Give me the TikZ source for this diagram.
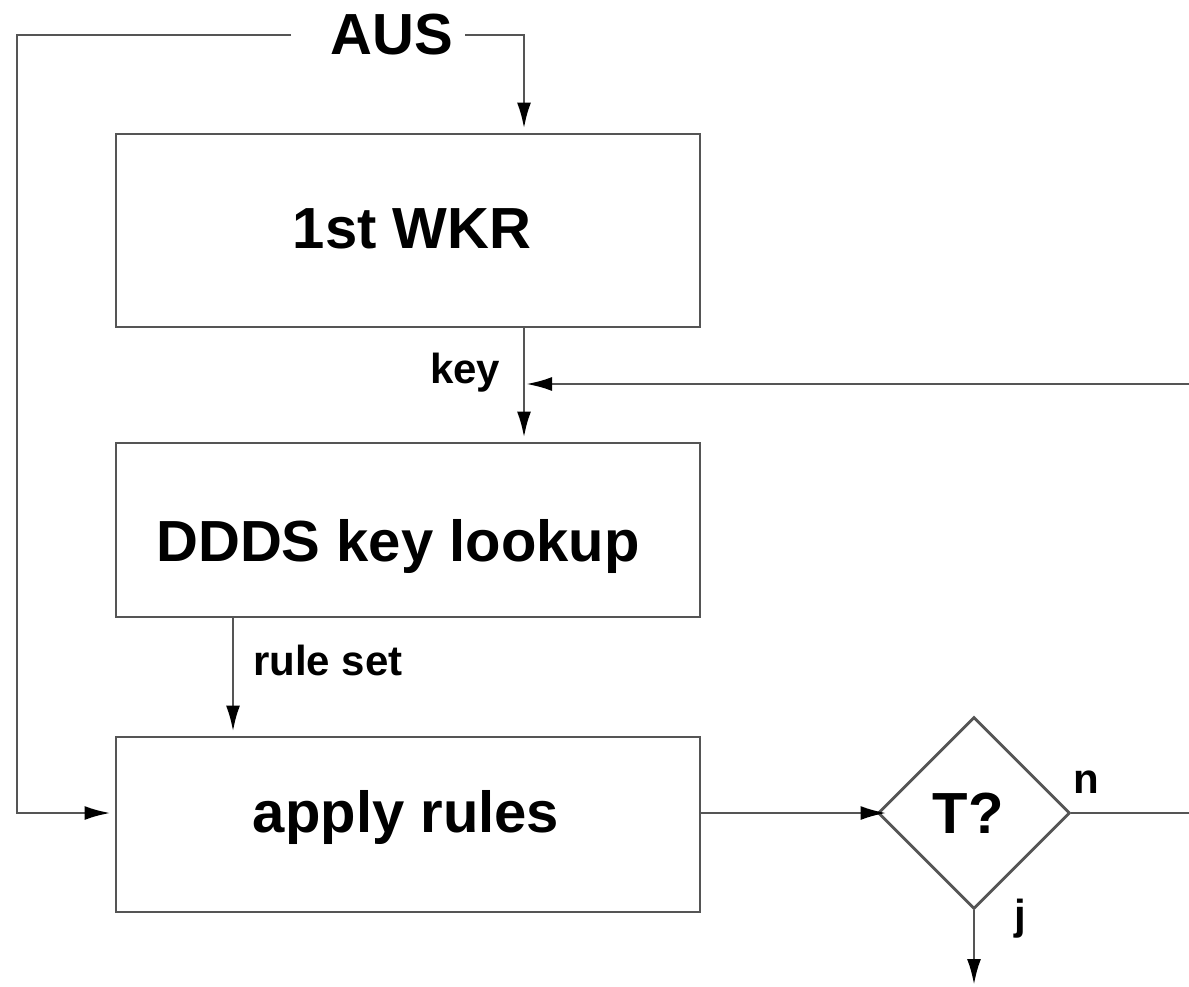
\documentclass[tikz,border=0pt]{standalone}
\usepackage{fontspec}
\setmainfont{Liberation Sans}
\usetikzlibrary{arrows.meta,shapes.geometric}
\definecolor{lncol}{HTML}{555555}
\tikzset{
  ln/.style={draw=lncol, line width=2.8pt},
  box/.style={ln, rectangle, inner sep=0pt},
  arr/.style={ln, -{Latex[length=26pt,width=14pt,color=black]}, shorten >=4pt},
  big/.style={font=\bfseries\fontsize{58}{64}\selectfont, inner sep=0pt},
  small/.style={font=\bfseries\fontsize{42}{48}\selectfont, inner sep=0pt},
}
\begin{document}
\begin{tikzpicture}[x=1pt,y=-1pt]
\useasboundingbox (0,0) rectangle (1189,987);
% boxes
\node[box, minimum width=584pt, minimum height=193pt] (wkr) at (408,230.5) {};
\node[box, minimum width=584pt, minimum height=174pt] (ddds) at (408,530) {};
\node[box, minimum width=584pt, minimum height=175pt] (apply) at (408,824.5) {};
\node[ln, diamond, minimum width=192pt, minimum height=192pt, inner sep=0pt, shape aspect=1] (t) at (974,813) {};
% texts
\node[big, anchor=base] (aus) at (392,55) {AUS};
\node[big, anchor=base] (wkrt) at (412,248) {1st WKR};
\node[big, anchor=base] (dddst) at (398,561) {DDDS key lookup};
\node[big, anchor=base] (applyt) at (406,832) {apply rules};
\node[big, anchor=base] (tq) at (968,833) {T?};
\node[small, anchor=base west] (keyl) at (430,383) {key};
\node[small, anchor=base west] (rulel) at (253,675) {rule set};
\node[small, anchor=base west] (nl) at (1073,793) {n};
\node[small, anchor=base west] (jl) at (1014,929) {j};
% helper coordinates
\coordinate (ausL) at (291,35);
\coordinate (ausR) at (465,35);
\coordinate (lc) at (17,35);
\coordinate (col) at (524,0);
\coordinate (col2) at (233,0);
\coordinate (row) at (0,813);
\coordinate (fbR) at (1189,384);
\coordinate (nR) at (1189,813);
\coordinate (jB) at (974,987);
% connectors
\draw[arr] (ausL) -- (lc) |- (apply.west |- row);
\draw[arr] (ausR) -| (wkr.north -| col);
\draw[arr] (wkr.south -| col) -- (ddds.north -| col);
\draw[arr, shorten >=2pt] (fbR) -- (fbR -| col);
\draw[arr] (ddds.south -| col2) -- (apply.north -| col2);
\draw[arr, shorten >=-10pt] (apply.east |- row) -- (t.west);
\draw[ln] (t.east) -- (nR);
\draw[arr, shorten >=2pt] (t.south) -- (jB);
\end{tikzpicture}
\end{document}
